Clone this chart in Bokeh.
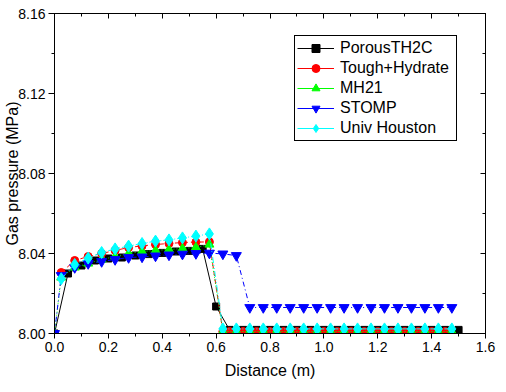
from bokeh.plotting import figure
from bokeh.models import (Range1d, LinearAxis, SingleIntervalTicker, PrintfTickFormatter,
                          Legend, LegendItem, CustomLabelingPolicy)
from bokeh.embed import file_html
from bokeh.resources import INLINE

FONT = "Liberation Sans"

# ---------------- data ----------------
x_porous = [0.00, 0.05, 0.10, 0.15, 0.20, 0.25, 0.30, 0.35, 0.40, 0.45, 0.50, 0.55, 0.60,
            0.65, 0.70, 0.75, 0.80, 0.85, 0.90, 0.95, 1.00, 1.05, 1.10, 1.15, 1.20, 1.25,
            1.30, 1.35, 1.40, 1.45, 1.50]
y_porous = [8.0000, 8.0300, 8.0340, 8.0365, 8.0375, 8.0380, 8.0390, 8.0397, 8.0403, 8.0410,
            8.0413, 8.0423, 8.0135,
            8.0018, 8.0018, 8.0018, 8.0018, 8.0018, 8.0018, 8.0018, 8.0018, 8.0018, 8.0018,
            8.0018, 8.0018, 8.0018, 8.0018, 8.0018, 8.0018, 8.0018, 8.0018]

x_tough = [0.025, 0.075, 0.125, 0.175, 0.225, 0.275, 0.325, 0.375, 0.425, 0.475, 0.525, 0.575,
           0.625, 0.65, 0.70, 0.75, 0.80, 0.85, 0.90, 0.95, 1.00, 1.05, 1.10, 1.15, 1.20,
           1.25, 1.30, 1.35, 1.40, 1.45]
y_tough = [8.0305, 8.0365, 8.0385, 8.0400, 8.0415, 8.0430, 8.0438, 8.0445, 8.0450, 8.0455,
           8.0457, 8.0458,
           8.0010, 8.0010, 8.0010, 8.0010, 8.0010, 8.0010, 8.0010, 8.0010, 8.0010, 8.0010,
           8.0010, 8.0010, 8.0010, 8.0010, 8.0010, 8.0010, 8.0010, 8.0010]

x_mh21 = [0.000, 0.025, 0.075, 0.125, 0.175, 0.225, 0.275, 0.325, 0.375, 0.425, 0.475, 0.525,
          0.575, 0.625, 0.675, 0.725, 0.775, 0.825, 0.875, 0.925, 0.975, 1.025, 1.075, 1.125,
          1.175, 1.225, 1.275, 1.325, 1.375, 1.425, 1.475]
y_mh21 = [8.0000, 8.0280, 8.0330, 8.0350, 8.0370, 8.0385, 8.0400, 8.0410, 8.0415, 8.0420,
          8.0425, 8.0430, 8.0445,
          8.0010, 8.0010, 8.0010, 8.0010, 8.0010, 8.0010, 8.0010, 8.0010, 8.0010, 8.0010,
          8.0010, 8.0010, 8.0010, 8.0010, 8.0010, 8.0010, 8.0010, 8.0010]

x_stomp = [0.000, 0.025, 0.075, 0.125, 0.175, 0.225, 0.275, 0.325, 0.375, 0.425, 0.475, 0.525,
           0.575, 0.625, 0.675, 0.725, 0.775, 0.825, 0.875, 0.925, 0.975, 1.025, 1.075, 1.125,
           1.175, 1.225, 1.275, 1.325, 1.375, 1.425, 1.475]
y_stomp = [8.0000, 8.0290, 8.0330, 8.0350, 8.0360, 8.0370, 8.0380, 8.0383, 8.0388, 8.0393,
           8.0397, 8.0400, 8.0402, 8.0398, 8.0390,
           8.0130, 8.0130, 8.0130, 8.0130, 8.0130, 8.0130, 8.0130, 8.0130, 8.0130, 8.0130,
           8.0130, 8.0130, 8.0130, 8.0130, 8.0130, 8.0130]

x_houston = [0.025, 0.075, 0.125, 0.175, 0.225, 0.275, 0.325, 0.375, 0.425, 0.475, 0.525,
             0.575, 0.625, 0.675, 0.725, 0.775, 0.825, 0.875, 0.925, 0.975, 1.025, 1.075,
             1.125, 1.175, 1.225, 1.275, 1.325, 1.375, 1.425, 1.475]
y_houston = [8.0274, 8.0345, 8.0377, 8.0405, 8.0423, 8.0437, 8.0450, 8.0462, 8.0468, 8.0478,
             8.0487, 8.0498,
             8.0023, 8.0023, 8.0023, 8.0023, 8.0023, 8.0023, 8.0023, 8.0023, 8.0023, 8.0023,
             8.0023, 8.0023, 8.0023, 8.0023, 8.0023, 8.0023, 8.0023, 8.0023]

series_names = ["PorousTH2C", "Tough+Hydrate", "MH21", "STOMP", "Univ Houston"]

x_ticks_interval = 0.2
y_ticks_interval = 0.04

# ---------------- figure ----------------
p = figure(width=500, height=390, output_backend="svg", toolbar_location=None,
           x_range=Range1d(0, 1.6), y_range=Range1d(8.0, 8.16),
           min_border_left=54, min_border_right=15, min_border_top=13, min_border_bottom=57,
           background_fill_color="white", border_fill_color="white")
p.grid.visible = False
p.outline_line_color = "black"
p.outline_line_alpha = 1
p.outline_line_width = 1

xt = SingleIntervalTicker(interval=x_ticks_interval, num_minor_ticks=2)
yt = SingleIntervalTicker(interval=y_ticks_interval, num_minor_ticks=2)

xa = p.xaxis[0]
xa.ticker = xt
xa.formatter = PrintfTickFormatter(format="%.1f")
xa.axis_label = "Distance (m)"
xa.axis_label_text_font = FONT
xa.axis_label_text_font_size = "16px"
xa.axis_label_text_font_style = "normal"
xa.axis_label_text_color = "black"
xa.axis_label_standoff = 7
xa.major_label_text_font = FONT
xa.major_label_text_font_size = "14px"
xa.major_label_text_color = "black"
xa.major_label_standoff = 3
xa.major_tick_in = 0
xa.major_tick_out = 5
xa.minor_tick_in = 0
xa.minor_tick_out = 3
xa.axis_line_color = "black"
xa.major_tick_line_color = "black"
xa.minor_tick_line_color = "black"

ya = p.yaxis[0]
ya.ticker = yt
ya.formatter = PrintfTickFormatter(format="%.2f")
ya.axis_label = "Gas pressure (MPa)"
ya.axis_label_text_font = FONT
ya.axis_label_text_font_size = "16px"
ya.axis_label_text_font_style = "normal"
ya.axis_label_text_color = "black"
ya.axis_label_standoff = -6
ya.major_label_text_font = FONT
ya.major_label_text_font_size = "14px"
ya.major_label_text_color = "black"
ya.major_label_standoff = 3
ya.major_tick_in = 0
ya.major_tick_out = 6
ya.minor_tick_in = 0
ya.minor_tick_out = 3
ya.axis_line_color = "black"
ya.major_tick_line_color = "black"
ya.minor_tick_line_color = "black"

no_labels = CustomLabelingPolicy(code="for (const i of indices) indices.unset(i); return indices")
for loc, ticker in (("above", xt), ("right", yt)):
    ax = LinearAxis(ticker=ticker, major_label_policy=no_labels,
                    major_label_text_font_size="1px", major_label_standoff=0,
                    major_tick_in=5, major_tick_out=0, minor_tick_in=3, minor_tick_out=0,
                    axis_line_color="black", major_tick_line_color="black",
                    minor_tick_line_color="black")
    p.add_layout(ax, loc)

# ---------------- series ----------------
styles = [
    (x_porous, y_porous, "black", "square", 7, "solid"),
    (x_tough, y_tough, "#ff0000", "circle", 8, "5 3"),
    (x_mh21, y_mh21, "#00ff00", "triangle", 9, "1 2"),
    (x_stomp, y_stomp, "#0000ff", "inverted_triangle", 10, "5 3 1 3"),
    (x_houston, y_houston, "#00ffff", "diamond", 12, "6 2 1 2 1 2"),
]

items = []
for (xs, ys, col, mk, sz, dash), name in zip(styles, series_names):
    p.line(xs, ys, line_color=col, line_width=1, line_dash=dash)
    mr = p.scatter(xs, ys, marker=mk, size=sz, fill_color=col, line_color=col)
    # hidden solid line, only used for the legend sample
    lr = p.line(xs, ys, line_color=col, line_width=1, visible=False)
    items.append(LegendItem(label=name, renderers=[lr, mr]))

legend = Legend(items=items, location=(240, 192), orientation="vertical",
                glyph_width=37, glyph_height=20, label_height=20, label_width=114,
                spacing=0, label_standoff=6, padding=2, margin=0, click_policy="none",
                inactive_fill_alpha=0,
                label_text_font=FONT, label_text_font_size="16px", label_text_color="black",
                border_line_color="black", border_line_width=1, border_line_alpha=1,
                background_fill_color="white", background_fill_alpha=1)
p.add_layout(legend, "center")

open("out.html", "w").write(file_html(p, INLINE))
